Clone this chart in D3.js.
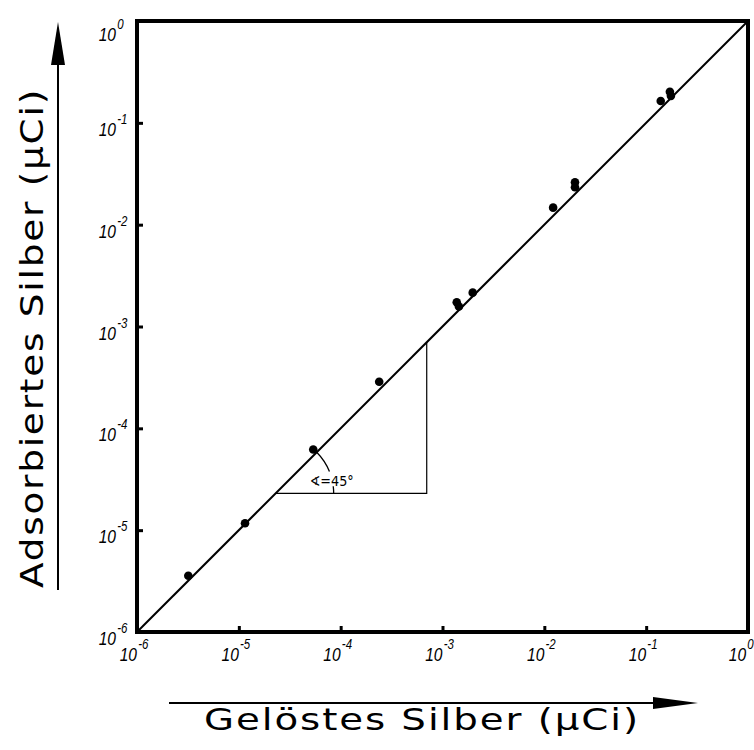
<!DOCTYPE html>
<html>
<head>
<meta charset="utf-8">
<script src="https://cdn.jsdelivr.net/npm/d3@7"></script>
<style>
  body { margin: 0; background: #fff; }
  svg { display: block; }
</style>
</head>
<body>
<svg id="chart" width="754" height="750"></svg>
<script>
// Decades shown on both logarithmic axes (powers of ten)
const decades = [-6, -5, -4, -3, -2, -1, 0];
const tickBase = "10";
const tickExponents = ["-6", "-5", "-4", "-3", "-2", "-1", "0"];

// Measured activities, µCi: dissolved silver vs. adsorbed silver
const dissolved = [3.19e-6, 1.15e-5, 5.38e-5, 2.39e-4, 1.38e-3, 1.45e-3, 1.98e-3,
                   1.22e-2, 2.0e-2, 2.0e-2, 0.139, 0.171, 0.175];
const adsorbed  = [3.57e-6, 1.17e-5, 6.2e-5, 2.87e-4, 1.73e-3, 1.57e-3, 2.15e-3,
                   1.47e-2, 2.61e-2, 2.33e-2, 0.164, 0.202, 0.184];

// Line of slope 1 through the points, and the slope triangle drawn under it
const fitLine = [1e-6, 1];
const slopeTriangle = [2.3e-5, 7e-4];
const angleLabel = "\u2222=45°";

const xTitle = "Gelöstes Silber (μCi)";
const yTitle = "Adsorbiertes Silber (μCi)";

const W = 754;
const svg = d3.select("#chart");
const plot = { left: 137, right: 748, top: 21, bottom: 632 };

const x = d3.scaleLog().domain([1e-6, 1]).range([plot.left, plot.right]);
const y = d3.scaleLog().domain([1e-6, 1]).range([plot.bottom, plot.top]);
const tickVals = decades.map(d => Math.pow(10, d));

// Inward ticks on the bottom and left axes
const xAxis = svg.append("g")
  .attr("transform", `translate(0,${plot.bottom})`)
  .call(d3.axisBottom(x).tickValues(tickVals).tickSizeInner(-6).tickSizeOuter(0).tickFormat(""));
const yAxis = svg.append("g")
  .attr("transform", `translate(${plot.left},0)`)
  .call(d3.axisLeft(y).tickValues(tickVals).tickSizeInner(-6).tickSizeOuter(0).tickFormat(""));
[xAxis, yAxis].forEach(g => {
  g.select(".domain").remove();
  g.selectAll(".tick line").attr("stroke", "#000").attr("stroke-width", 3);
});

// Frame around the plotting area
svg.append("rect")
  .attr("x", plot.left).attr("y", plot.top)
  .attr("width", plot.right - plot.left).attr("height", plot.bottom - plot.top)
  .attr("fill", "none").attr("stroke", "#000").attr("stroke-width", 4);

// Tick labels: narrow italic "10" with a raised exponent, one text element each;
// the "10" ends at xEnd and the exponent follows it
const labelFont = "'Liberation Sans', Arial, sans-serif";
const narrow = 0.82;
function powerLabel(g, xEnd, yBase, i) {
  const t = g.append("text");
  t.append("tspan").attr("font-size", 19).text(tickBase);
  t.append("tspan").attr("font-size", 14).attr("dx", 1.5).attr("dy", -12).text(tickExponents[i]);
  const node = t.node();
  const baseW = node.getSubStringLength(0, tickBase.length) * narrow;
  const totalW = node.getComputedTextLength() * narrow;
  const left = Math.min(xEnd - baseW, W - totalW - 1.5);
  t.attr("transform", `translate(${left},${yBase}) scale(${narrow},1)`);
}
const xl = svg.append("g").attr("font-family", labelFont).attr("font-style", "italic").attr("fill", "#000");
decades.forEach((d, i) => powerLabel(xl, x(Math.pow(10, d)), plot.bottom + 29, i));
const yl = svg.append("g").attr("font-family", labelFont).attr("font-style", "italic").attr("fill", "#000");
// the topmost label is kept below the upper frame line
decades.forEach((d, i) => powerLabel(yl, 116, Math.max(y(Math.pow(10, d)) + 13, plot.top + 20), i));

// Slope-1 line
svg.append("line")
  .attr("x1", x(fitLine[0])).attr("y1", y(fitLine[0]))
  .attr("x2", x(fitLine[1])).attr("y2", y(fitLine[1]))
  .attr("stroke", "#000").attr("stroke-width", 2);

// Slope triangle
const [t0, t1] = slopeTriangle;
svg.append("path")
  .attr("d", `M${x(t0)},${y(t0)} L${x(t1)},${y(t0)} L${x(t1)},${y(t1)}`)
  .attr("fill", "none").attr("stroke", "#000").attr("stroke-width", 1.2);

// Angle arc at the lower corner, broken around its label
const cx = x(t0), cy = y(t0), r = 58;
const arcPath = d3.path();
arcPath.arc(cx, cy, r, -Math.PI / 4, -22 * Math.PI / 180);
arcPath.moveTo(cx + r * Math.cos(-7 * Math.PI / 180), cy + r * Math.sin(-7 * Math.PI / 180));
arcPath.arc(cx, cy, r, -7 * Math.PI / 180, 0);
svg.append("path").attr("d", arcPath.toString())
  .attr("fill", "none").attr("stroke", "#000").attr("stroke-width", 1.3);
svg.append("text")
  .attr("x", cx + 34).attr("y", cy - 7)
  .attr("font-family", "'DejaVu Sans', sans-serif").attr("font-size", 14)
  .attr("textLength", 44).attr("lengthAdjust", "spacingAndGlyphs")
  .text(angleLabel);

// Data points
svg.append("g").selectAll("circle")
  .data(dissolved.map((v, i) => [v, adsorbed[i]]))
  .join("circle")
  .attr("cx", d => x(d[0])).attr("cy", d => y(d[1]))
  .attr("r", 4.3).attr("fill", "#000");

// Axis titles with direction arrows
const titleFont = "'DejaVu Sans', sans-serif";
svg.append("line").attr("x1", 169).attr("y1", 703).attr("x2", 656).attr("y2", 703)
  .attr("stroke", "#000").attr("stroke-width", 2);
svg.append("path").attr("d", "M698,703 L653,697 L653,709 Z").attr("fill", "#000");
svg.append("text").attr("x", 204).attr("y", 730)
  .attr("font-family", titleFont).attr("font-size", 30)
  .attr("letter-spacing", 1.5)
  .attr("textLength", 436).attr("lengthAdjust", "spacingAndGlyphs")
  .text(xTitle);

svg.append("line").attr("x1", 58).attr("y1", 590).attr("x2", 58).attr("y2", 60)
  .attr("stroke", "#000").attr("stroke-width", 2);
svg.append("path").attr("d", "M58,22 L51,65 L65,65 Z").attr("fill", "#000");
svg.append("text")
  .attr("transform", "translate(43,588) rotate(-90)")
  .attr("font-family", titleFont).attr("font-size", 32)
  .attr("letter-spacing", 1.5)
  .attr("textLength", 500).attr("lengthAdjust", "spacingAndGlyphs")
  .text(yTitle);
</script>
</body>
</html>
